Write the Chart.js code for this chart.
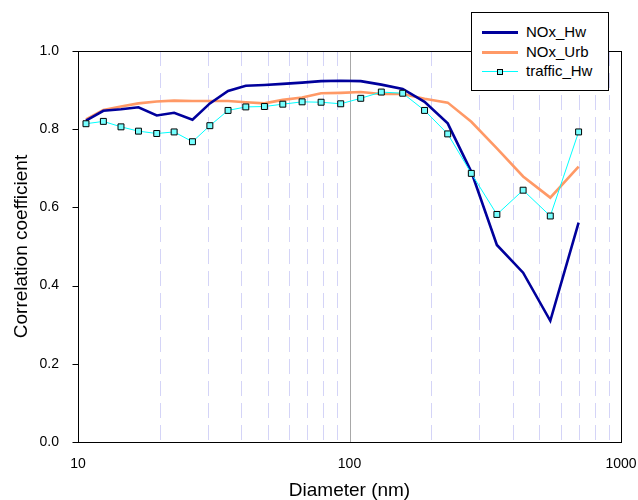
<!DOCTYPE html>
<html>
<head>
<meta charset="utf-8">
<script src="https://cdn.jsdelivr.net/npm/chart.js@4.4.0/dist/chart.umd.min.js"></script>
<style>
  html, body { margin: 0; padding: 0; background: #fff; }
  #wrap { position: relative; width: 638px; height: 500px; }
  #legend { position: absolute; left: 471px; top: 12px; width: 138px; height: 79px; border: 1px solid #000;
            background: #fff; box-sizing: border-box; font-family: "Liberation Sans", Arial, sans-serif; font-size: 15px; color: #000; }
  .row { position: absolute; left: 0; width: 136px; height: 18px; }
  .sample { position: absolute; left: 10px; width: 36px; top: 9px; }
  .txt { position: absolute; left: 54px; top: 0; line-height: 18px; white-space: nowrap; }
  .mk { position: absolute; left: 15px; top: -3px; width: 4px; height: 4px; border: 1px solid #000; background: #7ff; }
</style>
</head>
<body>
<div id="wrap">
  <canvas id="c" width="638" height="500"></canvas>
  <div id="legend"></div>
</div>
<script>
// ---- data ----
const diameters = [10.7, 12.4, 14.4, 16.7, 19.5, 22.6, 26.4, 30.6, 35.7, 41.5, 48.6, 56.8, 66.9, 78.6, 92.8,
                   110, 131, 157, 189, 230, 281, 349, 436, 549, 698];
const noxHw     = [0.822, 0.847, 0.851, 0.856, 0.835, 0.842, 0.824, 0.866, 0.898, 0.911, 0.913, 0.916, 0.919, 0.923, 0.924,
                   0.923, 0.914, 0.903, 0.870, 0.815, 0.691, 0.504, 0.433, 0.310, 0.561];
const noxUrb    = [0.825, 0.849, 0.858, 0.866, 0.871, 0.873, 0.872, 0.872, 0.872, 0.869, 0.866, 0.875, 0.881, 0.892, 0.893,
                   0.895, 0.890, 0.890, 0.878, 0.868, 0.819, 0.751, 0.679, 0.625, 0.704];
const trafficHw = [0.814, 0.820, 0.806, 0.795, 0.789, 0.793, 0.768, 0.809, 0.848, 0.857, 0.858, 0.864, 0.870, 0.869, 0.865,
                   0.879, 0.895, 0.892, 0.848, 0.788, 0.687, 0.582, 0.644, 0.578, 0.793];
const seriesNames = ['NOx_Hw', 'NOx_Urb', 'traffic_Hw'];
const xTickLabels = [10, 100, 1000];
const yTickValues = [0, 0.2, 0.4, 0.6, 0.8, 1.0];
const minorGridValues = [20, 30, 40, 50, 60, 70, 80, 90, 200, 300, 400, 500, 600, 700, 800, 900];
const majorGridValues = [100];

const colors = { hw: '#00009c', urb: '#ff9966', tr: '#00ffff' };

function pts(arr) { return diameters.map((d, i) => ({ x: d, y: arr[i] })); }

Chart.defaults.font.family = '"Liberation Sans", Arial, sans-serif';
Chart.defaults.color = '#000';

const framePlugin = {
  id: 'frame',
  beforeDatasetsDraw(chart) {
    const { ctx, chartArea: a, scales: { x } } = chart;
    ctx.save();
    ctx.lineWidth = 1;
    ctx.strokeStyle = '#d4d4f7';
    ctx.setLineDash([15, 7]);
    minorGridValues.forEach(v => {
      const px = Math.round(x.getPixelForValue(v)) + 0.5;
      ctx.beginPath(); ctx.moveTo(px, a.top); ctx.lineTo(px, a.bottom); ctx.stroke();
    });
    ctx.setLineDash([]);
    ctx.strokeStyle = '#a8a8a8';
    majorGridValues.forEach(v => {
      const px = Math.round(x.getPixelForValue(v)) + 0.5;
      ctx.beginPath(); ctx.moveTo(px, a.top); ctx.lineTo(px, a.bottom); ctx.stroke();
    });
    ctx.restore();
  },
  afterDatasetsDraw(chart) {
    const { ctx, chartArea: a, scales: { y } } = chart;
    ctx.save();
    ctx.lineWidth = 1;
    ctx.strokeStyle = '#000';
    const l = Math.round(a.left) + 0.5, r = Math.round(a.right) + 0.5;
    const t = Math.round(a.top) + 0.5, b = Math.round(a.bottom) + 0.5;
    ctx.strokeRect(l, t, r - l, b - t);
    yTickValues.forEach(v => {
      const py = Math.round(y.getPixelForValue(v)) + 0.5;
      ctx.beginPath(); ctx.moveTo(l - 6, py); ctx.lineTo(l, py); ctx.stroke();
    });
    ctx.restore();
  }
};

new Chart(document.getElementById('c'), {
  type: 'line',
  data: {
    datasets: [
      { label: seriesNames[2], data: pts(trafficHw), borderColor: colors.tr, borderWidth: 1,
        pointStyle: 'rect', pointRadius: 4.2, pointBorderColor: '#000', pointBackgroundColor: '#77ffff',
        pointBorderWidth: 1, tension: 0, order: 0 },
      { label: seriesNames[0], data: pts(noxHw), borderColor: colors.hw, borderWidth: 2.6,
        pointRadius: 0, tension: 0, order: 1 },
      { label: seriesNames[1], data: pts(noxUrb), borderColor: colors.urb, borderWidth: 2.6,
        pointRadius: 0, tension: 0, order: 2 }
    ]
  },
  options: {
    responsive: false,
    devicePixelRatio: 1,
    animation: false,
    layout: { padding: { top: 51, right: 17, left: 0, bottom: 0 } },
    plugins: { legend: { display: false }, tooltip: { enabled: false } },
    scales: {
      x: {
        type: 'logarithmic', min: 10, max: 1000, position: 'bottom',
        grid: { display: false }, border: { display: false },
        ticks: {
          autoSkip: false, maxRotation: 0, padding: 6, font: { size: 14 }, color: '#000',
          callback: (v) => { const r = Math.round(v); return xTickLabels.includes(r) ? String(r) : ''; }
        },
        title: { display: true, text: 'Diameter (nm)', font: { size: 19 }, color: '#000', padding: { top: 0, bottom: -2 } },
        afterFit: (s) => { s.height = 58; s.paddingLeft = 0; s.paddingRight = 0; }
      },
      y: {
        min: 0, max: 1,
        grid: { display: false }, border: { display: false },
        ticks: { stepSize: 0.2, padding: 11, font: { size: 14 }, color: '#000', callback: (v) => Number(v).toFixed(1) },
        title: { display: true, text: 'Correlation coefficient', font: { size: 19 }, color: '#000', padding: { top: 10, bottom: 0 } },
        afterFit: (s) => { s.width = 78; s.paddingTop = 0; s.paddingBottom = 0; }
      }
    }
  },
  plugins: [framePlugin]
});

// ---- legend (HTML text) ----
const legend = document.getElementById('legend');
const legendItems = [
  { name: seriesNames[0], color: colors.hw, w: 3, marker: false },
  { name: seriesNames[1], color: colors.urb, w: 3, marker: false },
  { name: seriesNames[2], color: colors.tr, w: 1, marker: true }
];
legendItems.forEach((it, i) => {
  const row = document.createElement('div');
  row.className = 'row';
  row.style.top = (10 + i * 19.5) + 'px';
  const s = document.createElement('div');
  s.className = 'sample';
  s.style.borderTop = it.w + 'px solid ' + it.color;
  s.style.top = (9 - Math.floor(it.w / 2)) + 'px';
  if (it.marker) { const m = document.createElement('div'); m.className = 'mk'; s.appendChild(m); }
  const t = document.createElement('div');
  t.className = 'txt';
  t.textContent = it.name;
  row.appendChild(s); row.appendChild(t);
  legend.appendChild(row);
});
</script>
</body>
</html>
